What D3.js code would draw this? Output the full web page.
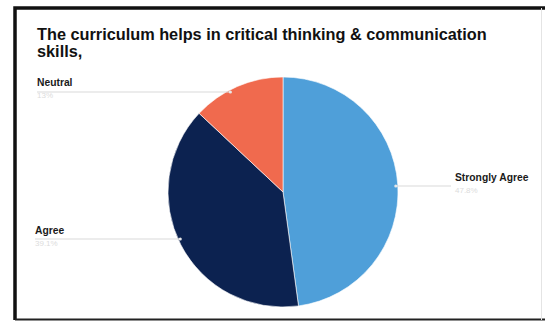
<!DOCTYPE html>
<html>
<head>
<meta charset="utf-8">
<script src="https://cdn.jsdelivr.net/npm/d3@7"></script>
<style>
  html, body { margin: 0; padding: 0; background: #ffffff; }
  svg { display: block; }
  text { font-family: "Liberation Sans", Arial, sans-serif; }
</style>
</head>
<body>
<svg id="chart" width="545" height="322"></svg>
<script>
const titleLines = ["The curriculum helps in critical thinking & communication", "skills,"];
const categories = ["Strongly Agree", "Agree", "Neutral"];
const values = [47.8, 39.1, 13.0];
const valueLabels = ["47.8%", "39.1%", "13%"];
const colors = ["#4f9fd9", "#0c2250", "#f06a4e"];

const svg = d3.select("#chart");
const W = 545, H = 322;

// frame
svg.append("rect").attr("x", 0).attr("y", 0).attr("width", W).attr("height", H).attr("fill", "#ffffff");
svg.append("path")
  .attr("d", "M15,320 L15,8 L545,8")
  .attr("fill", "none").attr("stroke", "#111").attr("stroke-width", 3.5);
svg.append("line").attr("x1", 15).attr("x2", 545).attr("y1", 319.5).attr("y2", 319.5)
  .attr("stroke", "#222").attr("stroke-width", 2);
svg.append("line").attr("x1", 541.5).attr("x2", 541.5).attr("y1", 8).attr("y2", 320)
  .attr("stroke", "#e4e4e4").attr("stroke-width", 1);

// title
const title = svg.append("text")
  .attr("x", 37).attr("y", 40)
  .style("font-weight", "700").style("font-size", "16.3px").attr("fill", "#111");
titleLines.forEach((t, i) => {
  title.append("tspan").attr("x", 37).attr("dy", i === 0 ? 0 : 17).text(t);
});

// pie
const cx = 283, cy = 192, r = 115;
const data = categories.map((c, i) => ({ cat: c, value: values[i], label: valueLabels[i], color: colors[i] }));
const pie = d3.pie().value(d => d.value).sort(null);
const arcs = pie(data);
const arc = d3.arc().innerRadius(0).outerRadius(r);

const g = svg.append("g").attr("transform", `translate(${cx},${cy})`);
g.selectAll("path").data(arcs).enter().append("path")
  .attr("d", arc)
  .attr("fill", d => d.data.color)
  .attr("stroke", "#ffffff").attr("stroke-width", 0.6);

// labels with leader lines
const labelPos = {
  "Strongly Agree": { x: 455, y: 181, lineY: 186 },
  "Agree": { x: 35, y: 234, lineY: 239 },
  "Neutral": { x: 37, y: 86, lineY: 92 }
};
arcs.forEach(a => {
  const p = labelPos[a.data.cat];
  const dy = p.lineY - cy;
  const dx = Math.sqrt(Math.max(0, (r - 2) * (r - 2) - dy * dy));
  const edgeX = p.x > cx ? cx + dx : cx - dx;
  const lineStart = p.x > cx ? p.x - 4 : p.x;
  svg.append("line")
    .attr("x1", lineStart).attr("x2", edgeX)
    .attr("y1", p.lineY).attr("y2", p.lineY)
    .attr("stroke", "#d9d9d9").attr("stroke-width", 1);
  svg.append("circle").attr("cx", edgeX).attr("cy", p.lineY).attr("r", 1.6).attr("fill", "#e8e8e8");
  svg.append("text")
    .attr("x", p.x).attr("y", p.y)
    .style("font-weight", "700").style("font-size", "10.3px").attr("fill", "#1a1a1a")
    .text(a.data.cat);
  svg.append("text")
    .attr("x", p.x).attr("y", p.y + 12)
    .style("font-size", "8px").attr("fill", "#dcdcdc")
    .text(a.data.label);
});
</script>
</body>
</html>
